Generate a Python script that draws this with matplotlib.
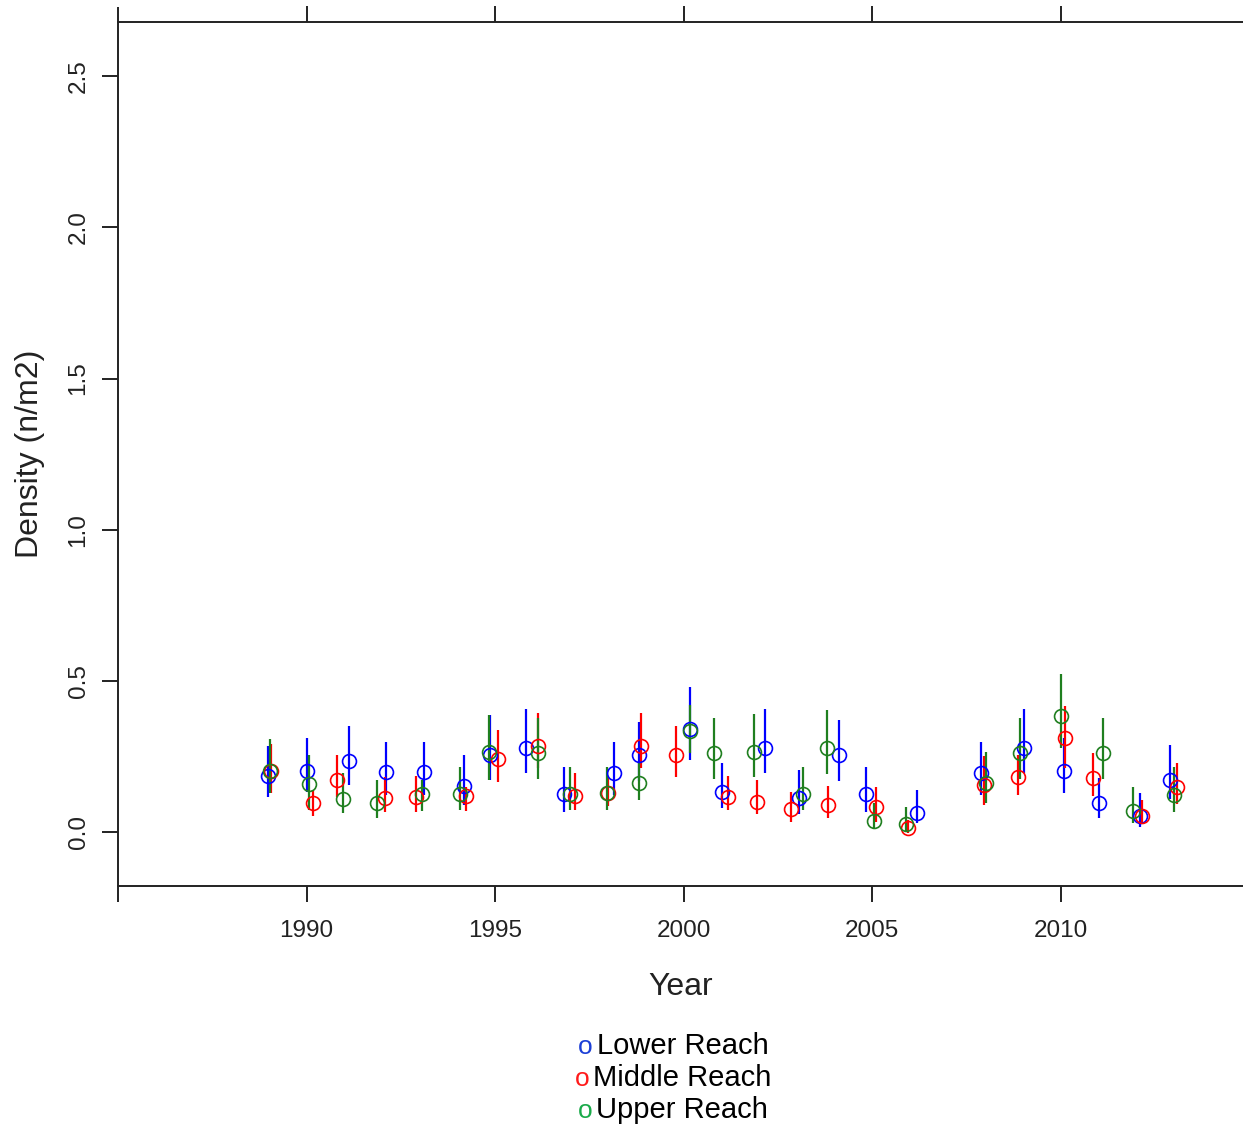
import matplotlib
matplotlib.use("Agg")
import matplotlib.pyplot as plt
from matplotlib.offsetbox import TextArea, HPacker, VPacker, AnchoredOffsetbox

plt.rcParams['font.family'] = ['Liberation Sans', 'DejaVu Sans']

# survey years (no survey in 2007)
years = [1989, 1990, 1991, 1992, 1993, 1994, 1995, 1996, 1997, 1998, 1999, 2000,
         2001, 2002, 2003, 2004, 2005, 2006, 2008, 2009, 2010, 2011, 2012, 2013]

# Lower Reach
lower_mean = [0.185, 0.202, 0.235, 0.198, 0.198, 0.152, 0.255, 0.279, 0.126, 0.196, 0.253, 0.340,
              0.133, 0.279, 0.111, 0.253, 0.126, 0.064, 0.196, 0.279, 0.203, 0.095, 0.051, 0.172]
lower_lo = [0.117, 0.133, 0.156, 0.122, 0.122, 0.089, 0.172, 0.194, 0.067, 0.122, 0.170, 0.238,
            0.078, 0.194, 0.060, 0.168, 0.065, 0.029, 0.122, 0.194, 0.130, 0.047, 0.016, 0.108]
lower_hi = [0.285, 0.312, 0.351, 0.299, 0.299, 0.255, 0.387, 0.407, 0.216, 0.299, 0.365, 0.478,
            0.229, 0.407, 0.205, 0.371, 0.216, 0.139, 0.299, 0.407, 0.310, 0.180, 0.128, 0.286]
lower_jit = [-0.02, 0.02, 0.12, 0.10, 0.11, 0.19, -0.14, -0.17, -0.16, 0.15, -0.18, 0.16,
             0.02, 0.15, 0.06, 0.13, -0.15, 0.18, -0.10, 0.03, 0.09, 0.02, 0.10, -0.10]

# Middle Reach
middle_mean = [0.200, 0.095, 0.172, 0.111, 0.115, 0.119, 0.242, 0.285, 0.120, 0.130, 0.285, 0.253,
               0.114, 0.100, 0.075, 0.089, 0.082, 0.012, 0.156, 0.183, 0.310, 0.178, 0.051, 0.147]
middle_lo = [0.130, 0.054, 0.117, 0.065, 0.065, 0.070, 0.166, 0.210, 0.073, 0.085, 0.211, 0.181,
             0.071, 0.060, 0.034, 0.047, 0.034, -0.005, 0.090, 0.122, 0.210, 0.119, 0.030, 0.092]
middle_hi = [0.290, 0.139, 0.255, 0.183, 0.185, 0.150, 0.338, 0.395, 0.196, 0.180, 0.395, 0.351,
             0.185, 0.172, 0.133, 0.153, 0.147, 0.040, 0.250, 0.255, 0.415, 0.260, 0.107, 0.229]
middle_jit = [0.06, 0.17, -0.19, 0.07, -0.09, 0.22, 0.07, 0.15, 0.12, -0.01, -0.12, -0.21,
              0.19, -0.06, -0.14, -0.17, 0.11, -0.04, -0.02, -0.13, 0.11, -0.14, 0.15, 0.08]

# Upper Reach
upper_mean = [0.202, 0.158, 0.108, 0.095, 0.126, 0.126, 0.263, 0.260, 0.126, 0.128, 0.163, 0.335,
              0.260, 0.266, 0.126, 0.279, 0.036, 0.026, 0.161, 0.260, 0.382, 0.260, 0.070, 0.122]
upper_lo = [0.130, 0.073, 0.062, 0.047, 0.070, 0.073, 0.172, 0.174, 0.073, 0.073, 0.104, 0.260,
            0.174, 0.181, 0.073, 0.192, 0.010, 0.001, 0.097, 0.174, 0.277, 0.174, 0.029, 0.065]
upper_hi = [0.307, 0.255, 0.196, 0.172, 0.172, 0.216, 0.387, 0.376, 0.216, 0.216, 0.230, 0.420,
            0.376, 0.390, 0.216, 0.402, 0.095, 0.084, 0.266, 0.376, 0.523, 0.376, 0.147, 0.216]
upper_jit = [0.03, 0.06, -0.02, -0.12, 0.07, 0.08, -0.16, 0.15, 0.00, -0.04, -0.18, 0.17,
             -0.19, -0.14, 0.16, -0.19, 0.05, -0.09, 0.01, -0.08, 0.00, 0.12, -0.08, 0.00]

series = [
    ("Lower Reach", lower_mean, lower_lo, lower_hi, lower_jit, "#0000ff", "#1c3fd6"),
    ("Middle Reach", middle_mean, middle_lo, middle_hi, middle_jit, "#ff0000", "#ff1a1a"),
    ("Upper Reach", upper_mean, upper_lo, upper_hi, upper_jit, "#1f7f1f", "#1aaa4a"),
]

x_ticks = [1990, 1995, 2000, 2005, 2010]
y_ticks = [0.0, 0.5, 1.0, 1.5, 2.0, 2.5]

fig = plt.figure(figsize=(12.43, 11.29), dpi=100)
ax = fig.add_axes([118 / 1243, 1 - 886 / 1129, 1 - 118 / 1243, (886 - 22) / 1129])

for name, m, lo, hi, jit, col, _ in series:
    xs = [y + j for y, j in zip(years, jit)]
    ax.vlines(xs, lo, hi, color=col, lw=1.6, zorder=2)
    ax.plot(xs, m, 'o', mfc='none', mec=col, ms=10, mew=1.2, ls='none', zorder=3)

ax.set_xlim(1985, 2014.84)
ax.set_ylim(-0.179, 2.68)

ax.spines['right'].set_visible(False)
ax.spines['left'].set_visible(False)
for s in ['top', 'bottom']:
    ax.spines[s].set_linewidth(1.4)
    ax.spines[s].set_color('#222222')
# left axis line runs a tick length past the frame, as in the original
ax.plot([0, 0], [-0.0185, 1.0174], transform=ax.transAxes, color='#222222',
        lw=1.4, clip_on=False, solid_capstyle='butt')

ax.set_xticks(x_ticks)
ax.set_yticks(y_ticks)
ax.set_yticklabels(["0.0", "0.5", "1.0", "1.5", "2.0", "2.5"], rotation=90, va='center')
ax.tick_params(axis='both', length=11.5, width=1.4, color='#222222', labelsize=17.5,
               labelcolor='#222222')
ax.tick_params(axis='x', top=True, pad=13)
ax.tick_params(axis='y', pad=9)

ax.set_xlabel("Year", fontsize=23, labelpad=21.5, color='#222222')
ax.set_ylabel("Density (n/m2)", fontsize=23, labelpad=16.5, color='#222222')

rows = []
for name, *_, legcol in series:
    rows.append(HPacker(children=[
        TextArea("o", textprops=dict(color=legcol, fontsize=19)),
        TextArea(name, textprops=dict(color='black', fontsize=21)),
    ], align='baseline', pad=0, sep=3))
box = VPacker(children=rows, align='center', pad=0, sep=3)
anch = AnchoredOffsetbox(loc='center', child=box, frameon=False,
                         bbox_to_anchor=(673 / 1243, 1 - 1078 / 1129),
                         bbox_transform=fig.transFigure, borderpad=0)
fig.add_artist(anch)

fig.savefig("out.png", dpi=100)
